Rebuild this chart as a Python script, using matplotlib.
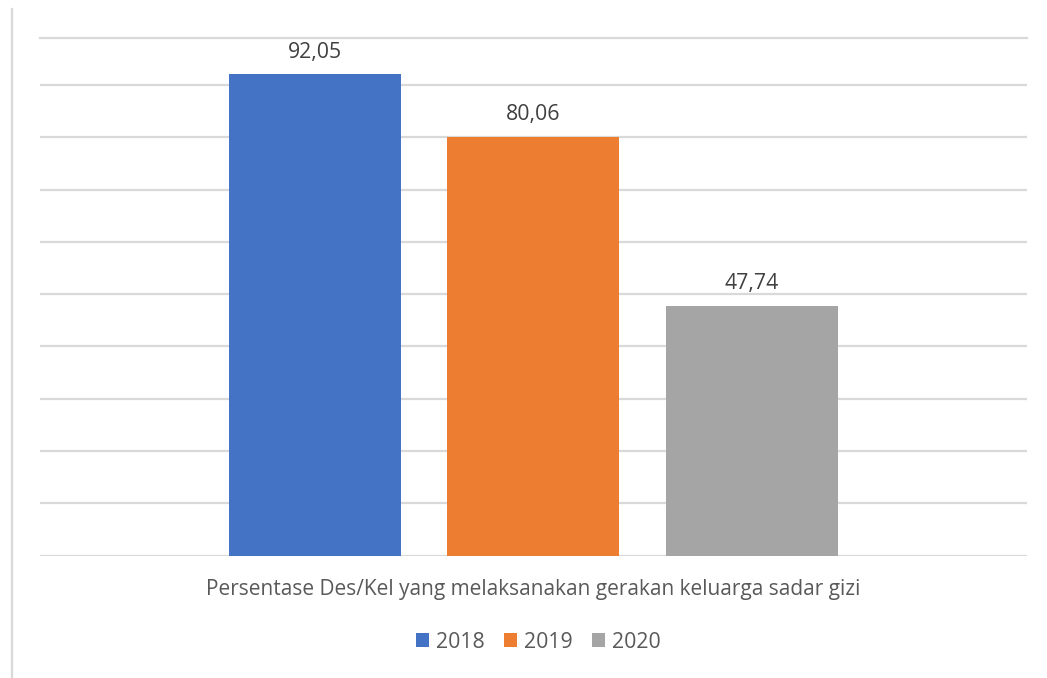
import matplotlib
matplotlib.use("Agg")
import matplotlib.pyplot as plt
from matplotlib.lines import Line2D

plt.rcParams['font.family'] = ['Open Sans', 'DejaVu Sans']

years = ["2018", "2019", "2020"]
values = [92.05, 80.06, 47.74]
labels = ["92,05", "80,06", "47,74"]
category = "Persentase Des/Kel yang melaksanakan gerakan keluarga sadar gizi"
colors = ["#4472C4", "#ED7D31", "#A5A5A5"]

W, H = 1047, 678
fig = plt.figure(figsize=(W / 100, H / 100), dpi=100)
ax = fig.add_axes([40 / W, 1 - 555.5 / H, (1026.7 - 40) / W, (555.5 - 38) / H])

fs = 15.3
grid_c = "#D9D9D9"
n = len(values)
pos = [i - (n - 1) / 2 for i in range(n)]
handles = []
for p, v, lab, c, yr in zip(pos, values, labels, colors, years):
    b = ax.bar(p, v, width=0.787, color=c, zorder=3, label=yr)
    handles.append(b)
    ax.annotate(lab, (p, v), xytext=(0, 12), textcoords="offset points",
                ha="center", va="baseline", fontsize=fs, color="#404040")

ax.set_xlim(-2.258, 2.258)
ax.set_ylim(0, 99)
ax.set_yticks(range(0, 100, 10))
ax.yaxis.grid(True, color=grid_c, linewidth=1.6, zorder=0)
ax.set_axisbelow(True)
ax.tick_params(left=False, bottom=False, labelleft=False, labelbottom=False)
for s in ["left", "right", "bottom"]:
    ax.spines[s].set_visible(False)
ax.spines["top"].set_color(grid_c)
ax.spines["top"].set_linewidth(1.6)

fig.text(533.5 / W, 1 - 595 / H, category, ha="center", va="baseline",
         fontsize=15.0, color="#595959")

leg = fig.legend(handles=handles, labels=years, loc="center",
                 bbox_to_anchor=(538 / W, 1 - 642 / H), ncol=3, frameon=False,
                 fontsize=fs, handlelength=0.62, handleheight=0.62,
                 handletextpad=0.33, columnspacing=0.9, borderpad=0)
for t in leg.get_texts():
    t.set_color("#595959")

fig.add_artist(Line2D([12 / W, 12 / W], [0, 1 - 9 / H], transform=fig.transFigure,
                      color=grid_c, linewidth=1.6))

fig.savefig("out.png", dpi=100)
